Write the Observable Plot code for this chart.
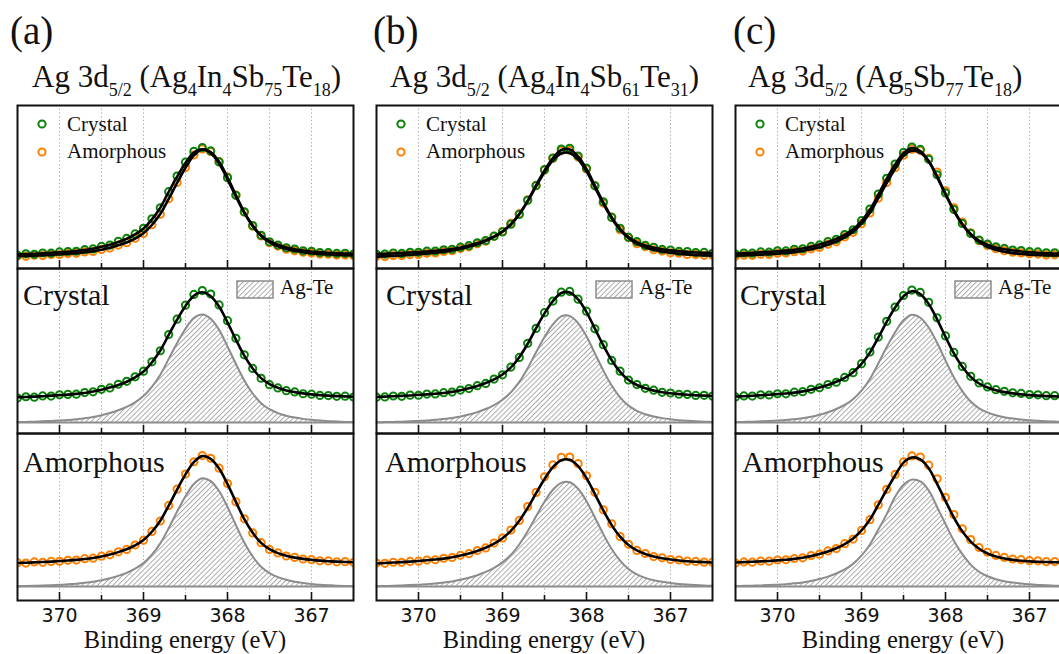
<!DOCTYPE html>
<html><head><meta charset="utf-8">
<script src="https://cdn.jsdelivr.net/npm/d3@7"></script>
<script src="https://cdn.jsdelivr.net/npm/@observablehq/plot@0.6"></script>
<style>
html,body{margin:0;padding:0;background:#fff;}
#root{position:relative;width:1059px;height:654px;overflow:hidden;background:#fff;}
#root svg.panel{position:absolute;}
#overlay{position:absolute;left:0;top:0;pointer-events:none;}
</style></head><body>
<svg width="0" height="0" style="position:absolute">
<defs><pattern id="hatch" patternUnits="userSpaceOnUse" width="3.6" height="3.6" patternTransform="rotate(45)"><rect width="3.6" height="3.6" fill="#fff"/><line x1="0.5" y1="0" x2="0.5" y2="3.6" stroke="#a3a3a3" stroke-width="0.9"/></pattern></defs></svg>
<div id="root"></div>
<script>
// ---------- data (binding energy grid, eV) ----------
const energy = [370.5,370.4,370.3,370.2,370.1,370.0,369.9,369.8,369.7,369.6,369.5,369.4,369.3,369.2,369.1,369.0,368.9,368.8,368.7,368.6,368.5,368.4,368.3,368.2,368.1,368.0,367.9,367.8,367.7,367.6,367.5,367.4,367.3,367.2,367.1,367.0,366.9,366.8,366.7,366.6,366.5];
const majorTicks = [370, 369, 368, 367];
const minorTicks = [369.5, 368.5, 367.5];
const gridTicks = [370, 369.5, 369, 368.5, 368, 367.5, 367];
const tickLabels = ["370", "369", "368", "367"];
const xDomain = [370.5, 366.5];

// (a) Ag4In4Sb75Te18
const crystalA = [0.228,0.240,0.236,0.248,0.246,0.258,0.262,0.264,0.279,0.286,0.309,0.322,0.356,0.383,0.425,0.478,0.565,0.668,0.818,0.962,1.092,1.192,1.228,1.196,1.094,0.948,0.784,0.630,0.503,0.412,0.352,0.322,0.296,0.285,0.268,0.264,0.252,0.251,0.244,0.245,0.238];
const crystalFitA = [0.235,0.238,0.241,0.245,0.250,0.255,0.260,0.267,0.275,0.288,0.305,0.325,0.350,0.380,0.420,0.475,0.560,0.670,0.815,0.958,1.085,1.180,1.212,1.175,1.080,0.932,0.772,0.622,0.502,0.413,0.358,0.324,0.299,0.283,0.271,0.262,0.255,0.250,0.246,0.243,0.240];
const agTeCrystalA = [0.004,0.006,0.008,0.011,0.015,0.019,0.024,0.031,0.040,0.052,0.068,0.088,0.114,0.146,0.188,0.246,0.332,0.445,0.592,0.740,0.872,0.972,1.005,0.965,0.862,0.708,0.545,0.392,0.270,0.180,0.124,0.088,0.063,0.046,0.034,0.025,0.018,0.013,0.009,0.006,0.004];
const amorphousA = [0.221,0.217,0.228,0.224,0.233,0.234,0.243,0.245,0.258,0.263,0.281,0.294,0.322,0.344,0.385,0.430,0.511,0.608,0.752,0.903,1.043,1.158,1.215,1.190,1.098,0.955,0.786,0.628,0.497,0.407,0.344,0.312,0.283,0.270,0.255,0.249,0.238,0.237,0.229,0.230,0.224];
const amorphousFitA = [0.218,0.221,0.224,0.227,0.231,0.236,0.241,0.247,0.255,0.265,0.279,0.297,0.319,0.346,0.382,0.432,0.508,0.610,0.750,0.900,1.040,1.155,1.210,1.185,1.095,0.950,0.785,0.625,0.498,0.405,0.346,0.310,0.285,0.268,0.256,0.247,0.240,0.235,0.231,0.228,0.225];
const agTeAmorphousA = [0.003,0.005,0.007,0.009,0.012,0.016,0.020,0.026,0.034,0.044,0.058,0.076,0.099,0.127,0.165,0.217,0.295,0.400,0.542,0.695,0.838,0.952,1.005,0.978,0.886,0.738,0.570,0.408,0.278,0.184,0.124,0.087,0.062,0.045,0.033,0.024,0.017,0.012,0.008,0.005,0.003];

// (b) Ag4In4Sb61Te31
const crystalB = [0.236,0.238,0.247,0.244,0.255,0.254,0.265,0.266,0.278,0.283,0.302,0.316,0.343,0.364,0.404,0.444,0.516,0.606,0.737,0.876,1.022,1.130,1.213,1.220,1.148,1.036,0.872,0.724,0.578,0.478,0.395,0.353,0.318,0.301,0.281,0.275,0.263,0.262,0.252,0.253,0.246];
const crystalFitB = [0.238,0.241,0.244,0.248,0.252,0.257,0.262,0.268,0.275,0.285,0.300,0.318,0.340,0.367,0.401,0.447,0.513,0.608,0.733,0.878,1.015,1.130,1.205,1.210,1.145,1.028,0.873,0.718,0.580,0.472,0.396,0.349,0.318,0.297,0.282,0.272,0.264,0.258,0.253,0.250,0.247];
const agTeCrystalB = [0.002,0.004,0.006,0.008,0.011,0.015,0.019,0.025,0.032,0.042,0.056,0.074,0.097,0.126,0.163,0.212,0.281,0.378,0.506,0.654,0.795,0.913,0.988,0.992,0.925,0.802,0.643,0.485,0.344,0.234,0.157,0.109,0.077,0.056,0.041,0.030,0.022,0.016,0.011,0.008,0.005];
const amorphousB = [0.218,0.215,0.225,0.224,0.233,0.235,0.245,0.248,0.262,0.269,0.290,0.305,0.334,0.358,0.403,0.449,0.524,0.613,0.742,0.873,1.018,1.128,1.199,1.202,1.140,1.028,0.874,0.712,0.582,0.464,0.391,0.335,0.306,0.278,0.266,0.250,0.246,0.235,0.233,0.226,0.226];
const amorphousFitB = [0.214,0.218,0.222,0.226,0.231,0.237,0.243,0.250,0.259,0.271,0.287,0.306,0.330,0.360,0.398,0.448,0.516,0.610,0.730,0.866,0.998,1.108,1.172,1.177,1.118,1.006,0.858,0.706,0.570,0.462,0.385,0.335,0.302,0.279,0.262,0.251,0.242,0.235,0.230,0.226,0.223];
const agTeAmorphousB = [0.003,0.005,0.007,0.010,0.013,0.017,0.022,0.028,0.036,0.047,0.062,0.081,0.105,0.135,0.173,0.224,0.294,0.390,0.512,0.652,0.787,0.898,0.962,0.967,0.907,0.792,0.641,0.486,0.348,0.240,0.162,0.112,0.080,0.058,0.043,0.032,0.024,0.018,0.013,0.009,0.006];

// (c) Ag5Sb77Te18
const crystalC = [0.238,0.248,0.246,0.258,0.256,0.268,0.267,0.282,0.287,0.309,0.323,0.354,0.375,0.420,0.464,0.548,0.656,0.795,0.942,1.074,1.182,1.232,1.210,1.118,0.975,0.806,0.652,0.522,0.430,0.368,0.331,0.306,0.290,0.276,0.271,0.260,0.258,0.250,0.250,0.244,0.245];
const crystalFitC = [0.242,0.245,0.249,0.254,0.259,0.264,0.270,0.278,0.290,0.306,0.326,0.350,0.379,0.416,0.468,0.545,0.650,0.790,0.937,1.070,1.175,1.222,1.195,1.103,0.960,0.797,0.643,0.518,0.425,0.363,0.326,0.300,0.283,0.271,0.262,0.255,0.250,0.246,0.243,0.241,0.239];
const agTeCrystalC = [0.004,0.006,0.008,0.011,0.014,0.018,0.023,0.030,0.040,0.054,0.073,0.096,0.126,0.164,0.217,0.296,0.405,0.550,0.702,0.840,0.952,1.003,0.975,0.884,0.742,0.578,0.420,0.292,0.195,0.132,0.094,0.068,0.050,0.037,0.028,0.021,0.016,0.012,0.009,0.006,0.004];
const amorphousC = [0.218,0.228,0.226,0.236,0.235,0.246,0.248,0.260,0.266,0.287,0.300,0.330,0.352,0.397,0.440,0.520,0.620,0.758,0.902,1.040,1.156,1.212,1.201,1.126,1.000,0.825,0.668,0.535,0.435,0.362,0.318,0.288,0.270,0.255,0.249,0.240,0.238,0.230,0.231,0.224,0.226];
const amorphousFitC = [0.223,0.226,0.229,0.233,0.237,0.242,0.248,0.256,0.267,0.282,0.301,0.325,0.355,0.393,0.445,0.520,0.622,0.758,0.898,1.030,1.150,1.197,1.180,1.097,0.952,0.794,0.640,0.512,0.416,0.350,0.306,0.278,0.259,0.247,0.239,0.233,0.229,0.227,0.225,0.224,0.223];
const agTeAmorphousC = [0.004,0.006,0.008,0.010,0.013,0.017,0.022,0.029,0.038,0.051,0.069,0.092,0.121,0.158,0.210,0.286,0.390,0.528,0.672,0.832,0.945,0.992,0.975,0.892,0.738,0.580,0.425,0.300,0.203,0.137,0.095,0.068,0.049,0.036,0.027,0.020,0.015,0.011,0.008,0.005,0.003];

const panelTags = ["(a)", "(b)", "(c)"];
const panelTitles = [
  "Ag 3d_{5/2} (Ag_{4}In_{4}Sb_{75}Te_{18})",
  "Ag 3d_{5/2} (Ag_{4}In_{4}Sb_{61}Te_{31})",
  "Ag 3d_{5/2} (Ag_{5}Sb_{77}Te_{18})"
];
const seriesNames = ["Crystal", "Amorphous"];
const componentName = "Ag-Te";
const xLabel = "Binding energy (eV)";

// ---------- styles / layout ----------
const GREEN = "#0b820b", ORANGE = "#ff8000", GRAY = "#8c8c8c";
const yDomainTop = [0.104, 1.618], yDomainMid = [-0.102, 1.433], yDomainBot = [-0.13, 1.42];
const layout = {
  colLeft: [17, 376, 735],
  tagX: [10, 373, 733],
  titleX: [32, 390, 748],
  crystalDx: [6, 10, 5],
  amorphDx: [6, 9, 7],
  rows: {top: {y: 105, h: 163}, mid: {y: 268, h: 165}, bot: {y: 433, h: 167}}
};
const columns = [
  {cr: crystalA, crFit: crystalFitA, crComp: agTeCrystalA, am: amorphousA, amFit: amorphousFitA, amComp: agTeAmorphousA},
  {cr: crystalB, crFit: crystalFitB, crComp: agTeCrystalB, am: amorphousB, amFit: amorphousFitB, amComp: agTeAmorphousB},
  {cr: crystalC, crFit: crystalFitC, crComp: agTeCrystalC, am: amorphousC, amFit: amorphousFitC, amComp: agTeAmorphousC}
];

const root = document.getElementById("root");
const rows = ys => energy.map((e, i) => ({e, v: ys[i]}));

function drawPanel({left, row, yDomain, dots = [], fits = [], comps = [], axis = false}) {
  const h = row.h;
  const mb = axis ? 28 : 1;
  const height = 1 + h + mb;
  const marks = [
    Plot.gridX(gridTicks, {stroke: "#a8a8a8", strokeOpacity: 1, strokeDasharray: "1.3,2.4", strokeWidth: 1})
  ];
  for (const c of comps) marks.push(Plot.areaY(rows(c), {x: "e", y: "v", fill: "url(#hatch)", curve: "catmull-rom"}));
  if (comps.length) marks.push(Plot.ruleY([0], {stroke: GRAY, strokeWidth: 2}));
  for (const c of comps) marks.push(Plot.lineY(rows(c), {x: "e", y: "v", stroke: GRAY, strokeWidth: 2, curve: "catmull-rom"}));
  for (const d of dots) marks.push(Plot.dot(rows(d.v), {x: "e", y: "v", r: 3.6, stroke: d.color, strokeWidth: 2, fill: "none", clip: true}));
  for (const f of fits) marks.push(Plot.lineY(rows(f), {x: "e", y: "v", stroke: "#000", strokeWidth: 2.6, curve: "catmull-rom", clip: true}));
  marks.push(Plot.ruleX(majorTicks, {stroke: "#111", strokeWidth: 1.6, insetTop: h - 8}));
  marks.push(Plot.ruleX(minorTicks, {stroke: "#111", strokeWidth: 1.6, insetTop: h - 5}));
  if (axis) marks.push(Plot.axisX(majorTicks, {
    tickSize: 0, tickPadding: 7.5, fontSize: 19, fontFamily: "DejaVu Sans", fill: "#111",
    tickFormat: d => tickLabels[majorTicks.indexOf(d)], label: null
  }));
  marks.push(Plot.frame({stroke: "#111", strokeWidth: 2}));
  const svg = Plot.plot({
    width: 338, height,
    marginLeft: 1, marginRight: 1, marginTop: 1, marginBottom: mb,
    x: axis ? {domain: xDomain} : {domain: xDomain, axis: null},
    y: {domain: yDomain, axis: null},
    style: {background: "transparent", overflow: "visible"},
    marks
  });
  svg.classList.add("panel");
  svg.style.left = (left - 1) + "px";
  svg.style.top = (row.y - 1) + "px";
  svg.style.maxWidth = "none";
  root.appendChild(svg);
}

columns.forEach((col, k) => {
  const left = layout.colLeft[k];
  drawPanel({left, row: layout.rows.top, yDomain: yDomainTop,
    dots: [{v: col.am, color: ORANGE}, {v: col.cr, color: GREEN}], fits: [col.amFit, col.crFit]});
  drawPanel({left, row: layout.rows.mid, yDomain: yDomainMid,
    dots: [{v: col.cr, color: GREEN}], fits: [col.crFit], comps: [col.crComp]});
  drawPanel({left, row: layout.rows.bot, yDomain: yDomainBot,
    dots: [{v: col.am, color: ORANGE}], fits: [col.amFit], comps: [col.amComp], axis: true});
});

// ---------- text overlay ----------
const SERIF = "'Liberation Serif','Times New Roman',serif";
function titleSpans(str) {
  const parts = str.split(/(_\{[^}]*\})/).filter(s => s.length);
  let out = "", shifted = false;
  for (const p of parts) {
    if (p.startsWith("_{")) {
      out += `<tspan font-size="18" dy="9">${p.slice(2, -1)}</tspan>`;
      shifted = true;
    } else {
      out += `<tspan${shifted ? ' dy="-9"' : ""}>${p}</tspan>`;
      shifted = false;
    }
  }
  return out;
}
let o = `<svg id="overlay" width="1059" height="654" font-family="${SERIF}" fill="#111">`;
columns.forEach((col, k) => {
  const L = layout.colLeft[k];
  o += `<text x="${layout.tagX[k]}" y="44" font-size="39">${panelTags[k]}</text>`;
  o += `<text x="${layout.titleX[k]}" y="87" font-size="31">${titleSpans(panelTitles[k])}</text>`;
  o += `<circle cx="${L + 25}" cy="124" r="3.6" fill="none" stroke="${GREEN}" stroke-width="2"/>`;
  o += `<circle cx="${L + 25}" cy="152" r="3.6" fill="none" stroke="${ORANGE}" stroke-width="2"/>`;
  o += `<text x="${L + 50}" y="131" font-size="21">${seriesNames[0]}</text>`;
  o += `<text x="${L + 50}" y="158" font-size="21">${seriesNames[1]}</text>`;
  o += `<rect x="${L + 220}" y="281" width="36" height="17" fill="url(#hatch)" stroke="${GRAY}" stroke-width="1.5"/>`;
  o += `<text x="${L + 263}" y="294" font-size="21">${componentName}</text>`;
  o += `<text x="${L + layout.crystalDx[k]}" y="305" font-size="30">${seriesNames[0]}</text>`;
  o += `<text x="${L + layout.amorphDx[k]}" y="472" font-size="30">${seriesNames[1]}</text>`;
  o += `<text x="${L + 168}" y="648" font-size="24.5" text-anchor="middle">${xLabel}</text>`;
});
o += `</svg>`;
root.insertAdjacentHTML("beforeend", o);
</script>
</body></html>
